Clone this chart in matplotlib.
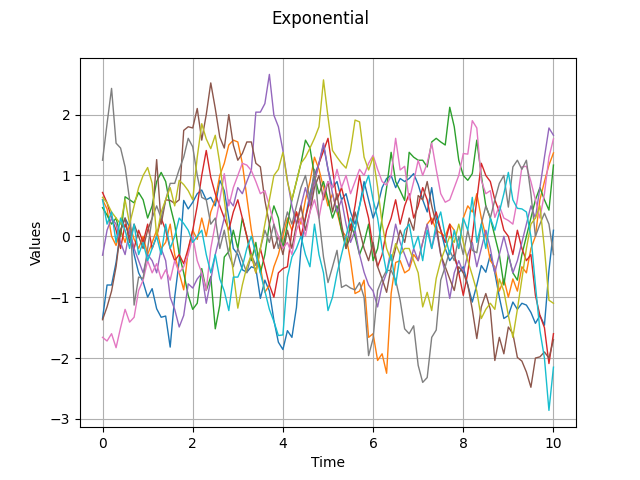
import matplotlib
matplotlib.use("Agg")
import matplotlib.pyplot as plt
import numpy as np

time = np.linspace(0, 10, 101)

s0 = [-1.35, -0.8, -0.8, -0.43, 0.1, 0.3, 0.15, -0.3, -0.6, -0.75,
      -1.0, -0.86, -1.19, -1.33, -1.31, -1.82, -1.0, -0.4, 0.59, 0.45,
      0.56, 0.7, 0.76, 0.6, 0.64, 0.5, 0.92, 0.75, 0.3, -0.2,
      -0.3, -0.55, -0.59, -0.5, -0.53, -1.02, -0.72, -0.9, -1.38, -1.74,
      -1.86, -1.55, -1.66, -1.17, -0.2, 0.3, 0.7, 1.0, 1.2, 1.5,
      1.1, 0.8, 0.9, 0.6, 0.7, 0.4, 0.2, 0.5, 0.9, 0.6,
      0.3, 0.5, 0.8, 0.95, 1.0, 0.8, 0.95, 0.9, 0.95, 1.03,
      0.85, 0.6, 0.4, 0.8, 0.3, 0.1, -0.2, -0.4, -0.3, -0.6,
      -0.5, -0.8, -1.08, -0.8, -0.48, -0.59, -0.3, -0.6, -1.0, -1.35,
      -1.3, -1.08, -1.2, -1.1, -1.13, -1.25, -1.43, -1.3, -1.46, -0.56,
      0.1]
s1 = [0.6, 0.45, 0.0, -0.15, 0.1, -0.1, 0.2, -0.05, -0.2, 0.0,
      -0.3, -0.1, 0.1, -0.2, -0.1, 0.2, -0.3, -0.6, -0.88, -0.23,
      0.1, -0.05, 0.3, 0.0, 0.4, 0.6, 1.0, 1.2, 1.5, 1.58,
      1.55, 1.2, 0.64, 0.1, -0.3, -0.5, -0.92, -0.8, -0.5, -0.3,
      0.0, 0.3, 0.1, 0.4, 0.2, 0.6, 0.9, 1.3, 1.1, 0.8,
      0.5, 0.7, 0.4, 0.1, 0.0, -0.4, -0.94, -0.9, -0.72, -1.66,
      -1.6, -2.04, -1.93, -2.25, -0.94, -0.43, -0.4, -0.6, -0.55, -0.3,
      -0.4, -0.1, 0.2, 0.3, 0.1, 0.05, 0.0, 0.2, 0.1, -0.2,
      0.3, 0.5, 0.4, 0.7, 0.3, 0.0, -0.4, -0.5, -0.9, -0.7,
      -1.0, -0.7, -0.9, -0.5, -0.6, -0.2, 0.0, 0.6, 0.9, 1.17,
      1.37]
s2 = [0.47, 0.35, 0.2, 0.3, 0.0, 0.65, 0.6, 0.55, 0.72, 0.6,
      0.3, 0.5, 0.9, 1.05, 0.9, 0.5, 0.2, -0.3, -0.6, -0.97,
      -1.2, -1.1, -0.53, -0.89, -0.66, -1.52, -1.13, -0.34, -0.25, 0.1,
      -0.2, 0.3, 0.0, -0.4, -0.1, -0.6, -0.3, 0.2, 0.5, 0.3,
      -0.2, 0.2, 0.6, 0.9, 1.2, 1.58, 1.45, 1.0, 0.7, 0.9,
      0.6, 0.3, 0.5, 0.1, -0.2, 0.2, 0.0, -0.3, -0.1, 0.2,
      -0.4, -0.2, 0.3, 0.8, 1.38, 0.9, 0.75, 0.59, 1.38, 1.3,
      1.25, 1.25, 1.14, 1.55, 1.61, 1.55, 1.5, 2.12, 1.8, 1.25,
      1.0, 0.92, 1.03, 1.58, 1.0, 0.5, 0.3, 0.0, -0.3, -0.8,
      -0.3, -0.6, -0.72, -0.3, 0.0, 0.3, 0.6, 0.8, 0.6, 0.43,
      1.17]
s3 = [0.72, 0.55, 0.3, 0.1, -0.2, 0.2, 0.0, -0.2, 0.1, -0.1,
      0.2, -0.2, 0.0, 0.3, 0.1, -0.2, -0.4, -0.3, -0.45, -0.2,
      0.1, 0.5, 1.0, 1.41, 0.97, 0.7, 0.5, 0.3, 0.1, 0.4,
      0.6, 0.3, 0.0, -0.3, -0.6, -0.2, -0.5, -0.8, -1.0, -0.6,
      -0.53, -0.5, 0.1, 0.4, 0.0, 0.3, 0.6, 0.9, 1.2, 1.4,
      1.61, 1.1, 0.6, 0.8, 0.5, 0.1, 0.5, 1.0, 0.6, 0.3,
      -0.2, -0.5, -0.3, 0.1, 0.3, 0.6, 0.2, 0.5, 0.7, 0.3,
      0.5, 0.8, 0.6, 0.2, 0.4, 0.1, -0.1, 0.2, -0.3, -0.6,
      -0.97, -0.6, 0.0, 0.6, 1.2, 1.0, 0.9, 0.6, 0.4, 0.1,
      0.0, -0.3, 0.1, -0.2, -0.4, -0.3, -0.97, -1.3, -1.5, -2.09,
      -1.6]
s4 = [-0.31, 0.1, 0.3, 0.2, -0.1, -0.3, 0.1, -0.2, -0.4, -0.6,
      -0.3, -0.4, -0.6, -0.2, -0.4, -1.0, -1.2, -1.49, -1.3, -0.78,
      -0.85, -0.7, -0.61, -1.1, -0.72, -0.3, 0.0, 0.3, 0.6, 0.5,
      0.8, 0.7, 0.9, 1.09, 2.04, 2.04, 2.18, 2.66, 1.99, 1.8,
      1.41, 0.92, 0.5, 0.2, 0.5, 0.8, 0.5, 0.9, 1.2, 1.53,
      1.1, 0.7, 0.4, 0.6, 0.2, -0.1, 0.1, -0.3, -0.59, -0.8,
      -0.9, -1.16, -0.8, -0.6, -0.2, 0.2, -0.1, -0.3, -0.5, -0.2,
      -0.4, -0.1, 0.2, -0.2, 0.1, -0.3, -0.6, -1.02, -0.6, -0.4,
      -0.6, -0.3, -0.1, -0.5, -0.2, 0.1, -0.2, -0.6, -0.3, 0.0,
      -0.3, -0.6, -0.4, -0.1, 0.2, 0.5, 0.3, 0.8, 1.3, 1.78,
      1.66]
s5 = [-1.37, -1.16, -0.9, -0.5, 0.1, 0.3, -0.1, 0.2, 0.0, -0.2,
      0.1, 0.3, 1.26, 0.2, 0.6, 0.59, 0.54, 0.6, 1.74, 1.8,
      1.78, 2.1, 1.58, 2.0, 2.52, 2.1, 1.63, 1.45, 2.0, 1.5,
      1.25, 1.36, 1.55, 1.55, 1.2, 1.14, 0.59, 0.2, -0.2, 0.0,
      -0.3, 0.1, -0.2, 0.2, 0.5, 0.1, 0.4, 0.8, 1.0, 0.6,
      0.9, 0.4, 0.7, 0.2, -0.2, 0.0, 0.4, 0.1, -0.2, -0.4,
      -0.1, -0.5, -0.7, -0.92, -0.5, -0.2, 0.1, -0.1, 0.3, 0.1,
      0.67, 0.6, 0.9, 0.5, 0.2, -0.3, -0.5, -0.7, -0.89, -0.5,
      -0.6, -0.8, -1.2, -1.68, -1.16, -0.94, -1.2, -2.04, -1.66, -1.93,
      -1.49, -1.6, -1.99, -2.05, -2.23, -2.48, -2.0, -1.98, -1.9, -2.0,
      -1.7]
s6 = [-1.66, -1.72, -1.6, -1.83, -1.5, -1.2, -1.41, -1.33, -0.89, -0.72,
      -0.4, -0.6, -0.45, -0.7, -0.55, -0.72, -0.4, -0.6, -0.5, -0.3,
      0.0, -0.4, -0.6, -0.89, -0.2, 0.2, 0.6, 1.03, 0.5, 0.8,
      1.0, 1.2, 1.17, 1.08, 0.9, 0.7, 0.75, 0.5, 0.2, 0.0,
      -0.2, -0.1, -0.3, 0.1, 0.3, 0.0, 0.4, 0.6, 0.3, 0.7,
      0.9, 0.8, 1.1, 0.8, 1.0, 0.7, 0.9, 1.1, 1.0, 1.2,
      1.33, 1.1, 0.9, 0.84, 1.0, 1.61, 1.09, 1.15, 0.6, 0.9,
      1.25, 1.0, 1.2, 1.53, 1.1, 0.7, 0.56, 0.6, 0.8, 1.0,
      1.36, 1.35, 1.9, 1.78, 0.92, 0.7, 0.75, 0.31, 0.5, 0.3,
      0.26, 0.2, 0.6, 1.14, 1.15, 0.9, 0.6, 0.3, 0.7, 1.3,
      1.6]
s7 = [1.25, 1.85, 2.43, 1.53, 1.45, 1.14, 0.6, -1.13, -0.67, -0.69,
      -0.2, 0.3, 0.5, 0.3, 0.6, 0.87, 0.87, 1.1, 1.3, 1.61,
      1.47, 1.0, 0.64, 0.6, 0.2, 0.3, -0.2, 0.1, -0.3, -0.5,
      -0.2, -0.4, -0.6, -0.3, -0.48, -0.2, 0.1, -0.1, 0.2, -0.2,
      0.1, 0.4, 0.2, 0.5, 0.8, 1.0, 0.6, 1.1, 0.3, -0.34,
      -0.76, -0.5, -0.23, -0.84, -0.8, -0.85, -0.88, -0.76, -1.0, -1.96,
      -1.68, -0.89, -0.7, -0.56, -0.56, -0.72, -1.05, -1.52, -1.6, -1.47,
      -2.12, -2.4, -2.32, -1.66, -1.54, -0.72, -0.5, -0.23, -0.4, 0.0,
      -0.3, 0.1, -0.23, -0.27, 0.2, 0.5, 0.3, 0.6, 0.87, 1.0,
      0.48, 1.14, 1.25, 1.1, 1.25, 0.7, 0.0, 0.2, 0.38, 0.2,
      -0.3]
s8 = [0.64, 0.55, 0.4, 0.3, 0.2, 0.6, 0.2, 0.5, 0.8, 1.0,
      1.13, 0.87, 0.0, 0.4, 0.6, 0.8, 0.5, 0.92, 0.85, 0.75,
      0.6, 1.3, 1.85, 1.6, 1.44, 1.66, 1.2, 0.6, 0.0, -0.6,
      -1.18, -0.8, -0.5, -0.3, -0.6, -0.2, 0.2, 0.6, 1.0, 1.1,
      1.38, 0.9, 0.6, 0.9, 1.2, 1.3, 1.45, 1.61, 1.8, 2.57,
      1.96, 1.41, 1.3, 1.2, 1.12, 1.41, 1.91, 1.88, 1.3, 1.09,
      1.3, 0.81, 0.21, -0.2, -0.4, -0.12, -0.3, -0.2, -0.2, -0.4,
      -0.6, -1.16, -0.92, -1.22, -0.69, -0.4, -0.2, 0.0, -0.1, 0.2,
      -0.1, -0.4, -0.64, -0.9, -1.35, -1.2, -1.1, -1.2, -0.7, -0.9,
      -1.3, -1.66, -1.2, -0.7, -0.2, 0.2, 0.3, 0.5, -0.2, -1.05,
      -1.1]
s9 = [0.6, 0.2, 0.4, -0.1, 0.3, 0.1, -0.2, 0.2, -0.3, -0.1,
      -0.4, -0.2, 0.0, -0.3, 0.2, -0.2, 0.0, 0.3, 0.21, 0.1,
      -0.1, 0.0, 0.1, -0.3, -0.6, -0.3, -0.7, -0.9, -1.22, -0.67,
      -0.67, -0.5, -0.2, 0.0, -0.3, -0.6, -0.9, -1.2, -1.4, -1.63,
      -1.62, -0.67, -0.34, -0.2, 0.0, -0.3, -0.5, 0.2, -0.3, -0.6,
      -1.22, -1.0, -0.61, -0.3, 0.0, 0.3, 0.1, 0.5, 0.8, 1.0,
      0.6, 0.3, -0.2, -0.6, -0.3, -0.8, -0.3, 0.1, 0.2, -0.2,
      0.0, -0.4, 0.1, -0.2, 0.2, 0.4, 0.0, -0.3, 0.1, -0.2,
      0.3, 0.1, 0.64, -0.1, 0.2, -0.2, 0.3, 0.1, 0.4, 0.7,
      1.05, 0.6, 0.46, 0.45, 0.4, 0.0, -0.8, -1.55, -2.0, -2.86,
      -2.15]

series = [s0, s1, s2, s3, s4, s5, s6, s7, s8, s9]

fig, ax = plt.subplots(figsize=(6.4, 4.8), dpi=100)
for s in series:
    ax.plot(time, s, linewidth=1.0)
fig.suptitle("Exponential")
ax.set_xlabel("Time")
ax.set_ylabel("Values")
ax.grid(True)
fig.savefig("out.png")
